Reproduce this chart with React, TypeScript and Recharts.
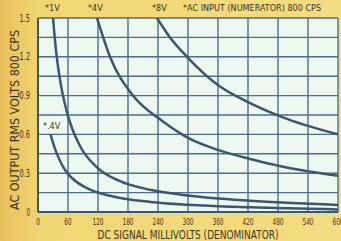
import { CartesianGrid, Line, LineChart, XAxis, YAxis } from "recharts"

// DC signal (mV) vs AC output (V rms), one curve per AC input level
const v04 = [
  { x: 25, y: 0.6 }, { x: 33, y: 0.5 }, { x: 40, y: 0.43 }, { x: 50, y: 0.35 },
  { x: 60, y: 0.295 }, { x: 70, y: 0.255 }, { x: 100, y: 0.18 }, { x: 150, y: 0.12 },
  { x: 225, y: 0.078 }, { x: 300, y: 0.056 }, { x: 425, y: 0.036 }, { x: 600, y: 0.02 },
]
const v1 = [
  { x: 30, y: 1.5 }, { x: 36, y: 1.25 }, { x: 45, y: 1.0 }, { x: 58, y: 0.77 },
  { x: 84, y: 0.51 }, { x: 118, y: 0.345 }, { x: 164, y: 0.238 }, { x: 224, y: 0.172 },
  { x: 304, y: 0.126 }, { x: 424, y: 0.087 }, { x: 600, y: 0.055 },
]
const v4 = [
  { x: 118, y: 1.5 }, { x: 144, y: 1.2 }, { x: 190, y: 0.9 }, { x: 250, y: 0.7 },
  { x: 304, y: 0.565 }, { x: 360, y: 0.48 }, { x: 424, y: 0.41 }, { x: 490, y: 0.35 },
  { x: 600, y: 0.28 },
]
const v8 = [
  { x: 238, y: 1.5 }, { x: 264, y: 1.35 }, { x: 298, y: 1.2 }, { x: 364, y: 0.97 },
  { x: 420, y: 0.85 }, { x: 498, y: 0.72 }, { x: 600, y: 0.6 },
]

const xTicks = [0, 60, 120, 180, 240, 300, 360, 420, 480, 540, 600]
const yTicks = [0, 0.3, 0.6, 0.9, 1.2, 1.5]
const yGrid = [0, 0.15, 0.3, 0.45, 0.6, 0.75, 0.9, 1.05, 1.2, 1.35, 1.5]

const font = "'DejaVu Sans Condensed', 'Liberation Sans Narrow', sans-serif"
const ink = "#3a3526"
const curve = "#3d5670"

// narrow tick labels like the printed original
const XTick = (p: any) => {
  const s = String(p.payload.value)
  return (
    <text x={p.x} y={225} textAnchor="middle" fontSize={9.5} fill={ink} fontFamily={font}
      textLength={s.length * 3.7} lengthAdjust="spacingAndGlyphs">{s}</text>
  )
}
const YTick = (p: any) => {
  const v = p.payload.value
  const s = v === 0 ? "0" : v.toFixed(1)
  return (
    <text x={p.x} y={p.y + 3.5} textAnchor="end" fontSize={10} fill={ink} fontFamily={font}
      textLength={s.length * 3.5} lengthAdjust="spacingAndGlyphs">{s}</text>
  )
}

export default function App() {
  return (
    <div
      style={{
        position: "absolute", left: 0, top: 0, width: 341, height: 241,
        background: "linear-gradient(90deg, #e9c05a 0%, #f1d674 12%, #f4dd82 100%)",
      }}
    >
      <LineChart width={341} height={241} margin={{ top: 18, right: 3, bottom: 0, left: 0 }}>
        <CartesianGrid
          fill="#edf8f1"
          stroke="#4f6d8a"
          strokeWidth={1.4}
          horizontalValues={yGrid}
          verticalValues={xTicks}
        />
        <XAxis
          type="number"
          dataKey="x"
          domain={[0, 600]}
          ticks={xTicks}
          height={29}
          interval={0}
          axisLine={{ stroke: "#3d5670", strokeWidth: 2 }}
          tickLine={false}
          tick={XTick}
          allowDataOverflow
        />
        <YAxis
          type="number"
          domain={[0, 1.5]}
          ticks={yTicks}
          width={38}
          interval={0}
          axisLine={{ stroke: "#3d5670", strokeWidth: 2 }}
          tickLine={false}
          tick={YTick}
          allowDataOverflow
        />
        <Line data={v04} dataKey="y" type="monotone" stroke={curve} strokeWidth={2.5} dot={false} isAnimationActive={false} />
        <Line data={v1} dataKey="y" type="monotone" stroke={curve} strokeWidth={2.5} dot={false} isAnimationActive={false} />
        <Line data={v4} dataKey="y" type="monotone" stroke={curve} strokeWidth={2.5} dot={false} isAnimationActive={false} />
        <Line data={v8} dataKey="y" type="monotone" stroke={curve} strokeWidth={2.5} dot={false} isAnimationActive={false} />
        <text x={188} y={239} textAnchor="middle" fontSize={12} fill={ink} fontFamily={font}
          textLength={181} lengthAdjust="spacingAndGlyphs">DC SIGNAL MILLIVOLTS (DENOMINATOR)</text>
        <text x={19} y={120} transform="rotate(-90 19 120)" textAnchor="middle" fontSize={13} fill={ink} fontFamily={font}
          textLength={180} lengthAdjust="spacingAndGlyphs">AC OUTPUT RMS VOLTS 800 CPS</text>
        <text x={45} y={11} fontSize={9} fill={ink} fontFamily={font}>*1V</text>
        <text x={88} y={11} fontSize={9} fill={ink} fontFamily={font}>*4V</text>
        <text x={152} y={11} fontSize={9} fill={ink} fontFamily={font}>*8V</text>
        <text x={183} y={11} fontSize={9} fill={ink} fontFamily={font}>*AC INPUT (NUMERATOR) 800 CPS</text>
        <text x={43} y={129} fontSize={9} fill={ink} fontFamily={font}>*.4V</text>
      </LineChart>
    </div>
  )
}
